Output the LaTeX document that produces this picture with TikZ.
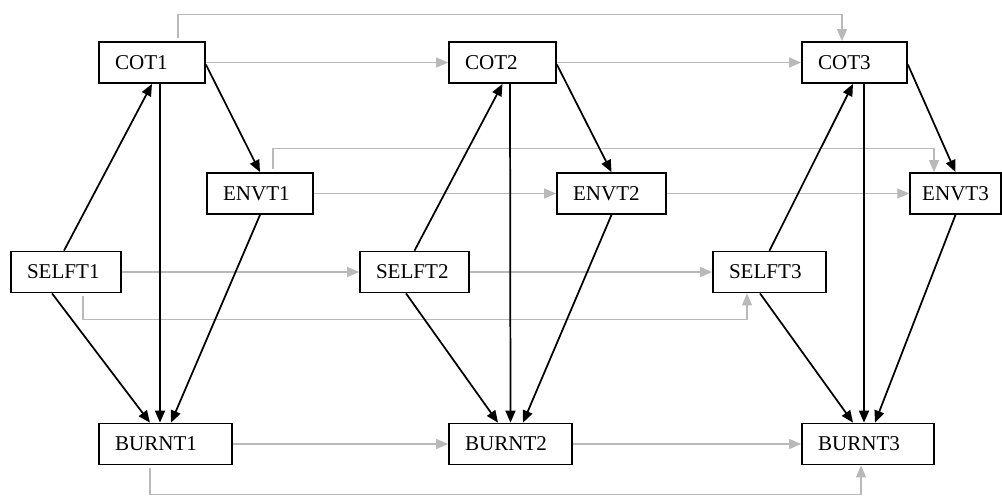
\documentclass[tikz,border=0pt]{standalone}
\usepackage{fontspec}
\setmainfont{Liberation Serif}
\usetikzlibrary{arrows.meta,calc}
\definecolor{gryc}{RGB}{185,185,185}
\begin{document}
\begin{tikzpicture}[x=0.75pt,y=-0.75pt,
  box/.style={draw,line width=1.3pt,minimum height=30.75pt,inner ysep=0pt,inner xsep=12pt,
    align=left,text width=#1,font=\fontsize{15.8}{18}\selectfont},
  blk/.style={line width=1.3pt,-{Triangle[length=9pt,width=7.5pt]}},
  gry/.style={draw=gryc,line width=0.9pt,-{Triangle[length=9pt,width=7.5pt]},color=gryc}]
\useasboundingbox (0,0) rectangle (1002,497);

% nodes
\node[box=55.5pt]  (cot1)   at (152,62.5)   {COT1};
\node[box=55.5pt]  (envt1)  at (260,193.5)  {ENVT1};
\node[box=58.5pt]  (selft1) at (66,272)     {SELFT1};
\node[box=75.75pt] (burnt1) at (165.5,444)  {BURNT1};

\node[box=56.25pt] (cot2)   at (502.5,62.5) {COT2};
\node[box=57.75pt] (envt2)  at (611.5,193.5){ENVT2};
\node[box=57.75pt] (selft2) at (414.5,272)  {SELFT2};
\node[box=68.25pt] (burnt2) at (510.5,444)  {BURNT2};

\node[box=54.75pt] (cot3)   at (854.5,62.5) {COT3};
\node[box=50pt,inner xsep=9pt] (envt3) at (955.5,193.5) {ENVT3};
\node[box=60.75pt] (selft3) at (769.5,272)  {SELFT3};
\node[box=75pt]    (burnt3) at (868,444)    {BURNT3};

% gray connectors
\draw[gry] (cot1.east) -- (cot2.west);
\draw[gry] (cot2.east) -- (cot3.west);
\draw[gry] ($(cot1.north)+(26,-3)$) -- ++(0,-24) -| ($(cot3.north)+(-12.5,0)$);
\draw[gry] (envt1.east) -- (envt2.west);
\draw[gry] (envt2.east) -- (envt3.west);
\draw[gry] ($(envt1.north)+(13,-3)$) -- ++(0,-21) -| ($(envt3.north)+(-21.5,0)$);
\draw[gry] (selft1.east) -- (selft2.west);
\draw[gry] (selft2.east) -- (selft3.west);
\draw[gry] ($(selft1.south)+(17,3)$) -- ++(0,23) -| ($(selft3.south)+(-22.5,0)$);
\draw[gry] (burnt1.east) -- (burnt2.west);
\draw[gry] (burnt2.east) -- (burnt3.west);
\draw[gry] ($(burnt1.south)+(-15.5,3)$) -- ++(0,26) -| ($(burnt3.south)+(-7,0)$);

% black connectors
\draw[blk] ($(selft1.north)+(-2,0)$) -- (cot1.south);
\draw[blk] ($(cot1.south)+(8,0)$) -- ($(burnt1.north)+(-5.5,0)$);
\draw[blk] ($(cot1.east)+(0,2)$) -- (envt1.north);
\draw[blk] (envt1.south) -- ($(burnt1.north)+(5.5,0)$);
\draw[blk] ($(selft1.south)+(-14,0)$) -- ($(burnt1.north)+(-15.5,0)$);

\draw[blk] (selft2.north) -- (cot2.south);
\draw[blk] ($(cot2.south)+(7.5,0)$) -- (burnt2.north);
\draw[blk] ($(cot2.east)+(0,2)$) -- (envt2.north);
\draw[blk] (envt2.south) -- ($(burnt2.north)+(12.5,0)$);
\draw[blk] ($(selft2.south)+(-8.5,0)$) -- ($(burnt2.north)+(-12.5,0)$);

\draw[blk] (selft3.north) -- ($(cot3.south)+(-1.5,0)$);
\draw[blk] ($(cot3.south)+(9.5,0)$) -- ($(burnt3.north)+(-4,0)$);
\draw[blk] ($(cot3.east)+(0,2)$) -- (envt3.north);
\draw[blk] (envt3.south) -- ($(burnt3.north)+(7,0)$);
\draw[blk] ($(selft3.south)+(-9.5,0)$) -- ($(burnt3.north)+(-15,0)$);
\end{tikzpicture}
\end{document}
